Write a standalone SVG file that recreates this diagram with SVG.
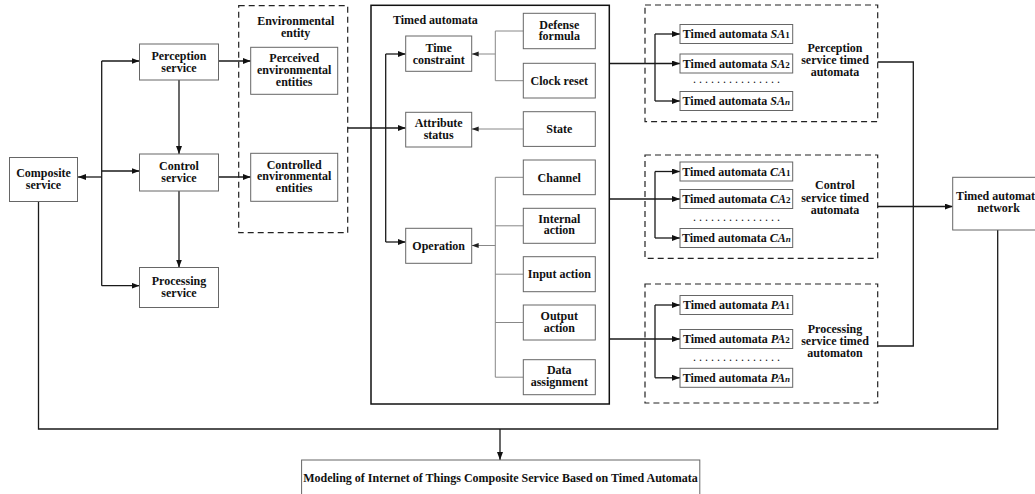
<svg xmlns="http://www.w3.org/2000/svg" width="1035" height="494" viewBox="0 0 1035 494">
  <defs>
    <marker id="arr" markerUnits="userSpaceOnUse" markerWidth="9" markerHeight="7" refX="8" refY="3" orient="auto">
      <path d="M0,0 L8,3 L0,6 z" fill="#111"/>
    </marker>
    <marker id="arrs" markerUnits="userSpaceOnUse" markerWidth="8" markerHeight="6" refX="7" refY="2.5" orient="auto">
      <path d="M0,0 L7,2.5 L0,5 z" fill="#222"/>
    </marker>
    <style>
      .box { fill: #fff; stroke: #666; stroke-width: 1; }
      .frame { fill: none; stroke: #111; stroke-width: 1.5; }
      .dash { fill: none; stroke: #222; stroke-width: 1.2; stroke-dasharray: 6 4; }
      .t { font-family: "Liberation Serif", "Times New Roman", serif; font-weight: bold; font-size: 12px; fill: #111; text-anchor: middle; }
      .ts { text-anchor: start; }
      .it { font-style: italic; }
      .sub { font-size: 9px; }
      .dots { font-family: "Liberation Serif", serif; font-size: 12px; fill: #111; letter-spacing: 3px; text-anchor: middle; }
      .ln { fill: none; stroke: #1a1a1a; stroke-width: 1.3; }
      .la { fill: none; stroke: #1a1a1a; stroke-width: 1.3; marker-end: url(#arr); }
      .gl { fill: none; stroke: #888; stroke-width: 1; }
      .ga { fill: none; stroke: #888; stroke-width: 1; marker-end: url(#arrs); }
    </style>
  </defs>
  <rect width="1035" height="494" fill="#fff"/>

  <!-- connectors -->
  <g id="connectors">
    <!-- composite service bus -->
    <path class="ln" d="M101.7,61 V285.7"/>
    <path class="la" d="M101.7,61 H139.5"/>
    <path class="la" d="M101.7,171 H139.5"/>
    <path class="la" d="M101.7,285.7 H139.5"/>
    <path class="la" d="M101.7,177 H78"/>
    <path class="la" d="M179,80 V154"/>
    <path class="la" d="M179,191 V267.5"/>
    <path class="la" d="M218.5,61 H250.7"/>
    <path class="la" d="M218.5,177 H250.7"/>
    <!-- environment to timed automata -->
    <path class="la" d="M347.7,128 H405.7"/>
    <path class="ln" d="M385.7,54 V242"/>
    <path class="la" d="M385.7,54 H405.7"/>
    <path class="la" d="M385.7,242 H405.7"/>
    <!-- inside timed automata -->
    <path class="gl" d="M523.3,31 H495.3 V80.7 H523.3"/>
    <path class="ga" d="M495.3,54 H471.7"/>
    <path class="ga" d="M523.3,129 H471.7"/>
    <path class="gl" d="M523.3,177.3 H495.3 V377.2 H523.3"/>
    <path class="gl" d="M495.3,225.8 H523.3 M495.3,274.2 H523.3 M495.3,322.5 H523.3"/>
    <path class="ga" d="M495.3,245.5 H471.7"/>
    <!-- timed automata to service automata -->
    <path class="la" d="M609,63.5 H680"/>
    <path class="ln" d="M655,34 V101"/>
    <path class="la" d="M655,34 H680"/>
    <path class="la" d="M655,101 H680"/>
    <path class="la" d="M609,199 H680"/>
    <path class="ln" d="M655,171.5 V238"/>
    <path class="la" d="M655,171.5 H680"/>
    <path class="la" d="M655,238 H680"/>
    <path class="la" d="M609,339 H680"/>
    <path class="ln" d="M655,305 V377.8"/>
    <path class="la" d="M655,305 H680"/>
    <path class="la" d="M655,377.8 H680"/>
    <!-- to network -->
    <path class="ln" d="M877.7,62 H913.3 V346 H877.7"/>
    <path class="la" d="M877.7,206.5 H952.7"/>
    <!-- bottom collector -->
    <path class="ln" d="M38.5,201.5 V429 H997.7 V230"/>
    <path class="la" d="M500,429 V460"/>
  </g>

  <g id="composite-service">
    <rect class="box" x="9.5" y="157.5" width="68" height="44"/>
    <text class="t" x="43.5" y="177">Composite</text>
    <text class="t" x="43.5" y="189">service</text>
  </g>
  <g id="perception-service">
    <rect class="box" x="139.5" y="44" width="79" height="36"/>
    <text class="t" x="179" y="60">Perception</text>
    <text class="t" x="179" y="72">service</text>
  </g>
  <g id="control-service">
    <rect class="box" x="139.5" y="154" width="79" height="37"/>
    <text class="t" x="179" y="170">Control</text>
    <text class="t" x="179" y="181.5">service</text>
  </g>
  <g id="processing-service">
    <rect class="box" x="139.5" y="267.5" width="79" height="40"/>
    <text class="t" x="179" y="285">Processing</text>
    <text class="t" x="179" y="297">service</text>
  </g>

  <g id="environmental-entity">
    <rect class="dash" x="238.7" y="5.7" width="109" height="227"/>
    <text class="t" x="295.7" y="25">Environmental</text>
    <text class="t" x="295.7" y="37">entity</text>
  </g>
  <g id="perceived-entities">
    <rect class="box" x="250.7" y="47.3" width="87" height="47"/>
    <text class="t" x="294.2" y="62">Perceived</text>
    <text class="t" x="294.2" y="74">environmental</text>
    <text class="t" x="294.2" y="86">entities</text>
  </g>
  <g id="controlled-entities">
    <rect class="box" x="250.7" y="153.3" width="87" height="48"/>
    <text class="t" x="294.2" y="168.5">Controlled</text>
    <text class="t" x="294.2" y="180">environmental</text>
    <text class="t" x="294.2" y="192">entities</text>
  </g>

  <g id="timed-automata">
    <rect class="frame" x="371" y="5.3" width="238.3" height="398.7"/>
    <text class="t ts" x="393" y="23.5">Timed automata</text>
  </g>
  <g id="time-constraint">
    <rect class="box" x="405.7" y="36" width="66" height="35.3"/>
    <text class="t" x="438.7" y="51.5">Time</text>
    <text class="t" x="438.7" y="63.5">constraint</text>
  </g>
  <g id="attribute-status">
    <rect class="box" x="405.7" y="112.3" width="66" height="34.7"/>
    <text class="t" x="438.7" y="127">Attribute</text>
    <text class="t" x="438.7" y="139">status</text>
  </g>
  <g id="operation">
    <rect class="box" x="405.7" y="228.3" width="66" height="35"/>
    <text class="t" x="438.7" y="249.5">Operation</text>
  </g>
  <g id="defense-formula">
    <rect class="box" x="523.3" y="13.3" width="72" height="35.4"/>
    <text class="t" x="559.3" y="28.5">Defense</text>
    <text class="t" x="559.3" y="40">formula</text>
  </g>
  <g id="clock-reset">
    <rect class="box" x="523.3" y="63.3" width="72" height="34.7"/>
    <text class="t" x="559.3" y="84.7">Clock reset</text>
  </g>
  <g id="state">
    <rect class="box" x="523.3" y="111.7" width="72" height="34.7"/>
    <text class="t" x="559.3" y="133">State</text>
  </g>
  <g id="channel">
    <rect class="box" x="523.3" y="160" width="72" height="34.7"/>
    <text class="t" x="559.3" y="181.5">Channel</text>
  </g>
  <g id="internal-action">
    <rect class="box" x="523.3" y="208.3" width="72" height="35"/>
    <text class="t" x="559.3" y="222.5">Internal</text>
    <text class="t" x="559.3" y="234">action</text>
  </g>
  <g id="input-action">
    <rect class="box" x="523.3" y="256.7" width="72" height="35"/>
    <text class="t" x="559.3" y="278">Input action</text>
  </g>
  <g id="output-action">
    <rect class="box" x="523.3" y="305" width="72" height="35"/>
    <text class="t" x="559.3" y="319.7">Output</text>
    <text class="t" x="559.3" y="331.5">action</text>
  </g>
  <g id="data-assignment">
    <rect class="box" x="523.3" y="359.7" width="72" height="35"/>
    <text class="t" x="559.3" y="374">Data</text>
    <text class="t" x="559.3" y="386">assignment</text>
  </g>

  <g id="perception-automata">
    <rect class="dash" x="645" y="5" width="232.7" height="116.7"/>
    <rect class="box" x="680" y="24.5" width="112.7" height="19"/>
    <text class="t" x="736.3" y="38">Timed automata <tspan class="it">SA</tspan><tspan class="sub">1</tspan></text>
    <rect class="box" x="680" y="54" width="112.7" height="19"/>
    <text class="t" x="736.3" y="67.5">Timed automata <tspan class="it">SA</tspan><tspan class="sub">2</tspan></text>
    <text class="dots" x="738" y="83">...............</text>
    <rect class="box" x="680" y="91.5" width="112.7" height="19"/>
    <text class="t" x="736.3" y="105">Timed automata <tspan class="it">SA</tspan><tspan class="sub it">n</tspan></text>
    <text class="t" x="835" y="52">Perception</text>
    <text class="t" x="835" y="63.5">service timed</text>
    <text class="t" x="835" y="76">automata</text>
  </g>
  <g id="control-automata">
    <rect class="dash" x="645" y="155" width="232.7" height="103.3"/>
    <rect class="box" x="680" y="162" width="112.7" height="19"/>
    <text class="t" x="736.3" y="175.5">Timed automata <tspan class="it">CA</tspan><tspan class="sub">1</tspan></text>
    <rect class="box" x="680" y="189.5" width="112.7" height="19"/>
    <text class="t" x="736.3" y="203">Timed automata <tspan class="it">CA</tspan><tspan class="sub">2</tspan></text>
    <text class="dots" x="738" y="221">...............</text>
    <rect class="box" x="680" y="228.5" width="112.7" height="19"/>
    <text class="t" x="736.3" y="242">Timed automata <tspan class="it">CA</tspan><tspan class="sub it">n</tspan></text>
    <text class="t" x="835" y="189">Control</text>
    <text class="t" x="835" y="201.5">service timed</text>
    <text class="t" x="835" y="214">automata</text>
  </g>
  <g id="processing-automata">
    <rect class="dash" x="645" y="284" width="232.7" height="119"/>
    <rect class="box" x="680" y="295.5" width="112.7" height="19"/>
    <text class="t" x="736.3" y="309">Timed automata <tspan class="it">PA</tspan><tspan class="sub">1</tspan></text>
    <rect class="box" x="680" y="329.5" width="112.7" height="19"/>
    <text class="t" x="736.3" y="343">Timed automata <tspan class="it">PA</tspan><tspan class="sub">2</tspan></text>
    <text class="dots" x="738" y="360.5">...............</text>
    <rect class="box" x="680" y="368.3" width="112.7" height="19"/>
    <text class="t" x="736.3" y="381.8">Timed automata <tspan class="it">PA</tspan><tspan class="sub it">n</tspan></text>
    <text class="t" x="835" y="333">Processing</text>
    <text class="t" x="835" y="345">service timed</text>
    <text class="t" x="835" y="357">automaton</text>
  </g>

  <g id="automata-network">
    <rect class="box" x="952.7" y="177.3" width="92" height="52.7"/>
    <text class="t" x="998.5" y="199.7">Timed automata</text>
    <text class="t" x="998.5" y="212.3">network</text>
  </g>

  <g id="modeling-result">
    <rect class="box" x="301.6" y="460" width="398.2" height="50"/>
    <text class="t" x="500.5" y="481.5">Modeling of Internet of Things Composite Service Based on Timed Automata</text>
  </g>
</svg>
